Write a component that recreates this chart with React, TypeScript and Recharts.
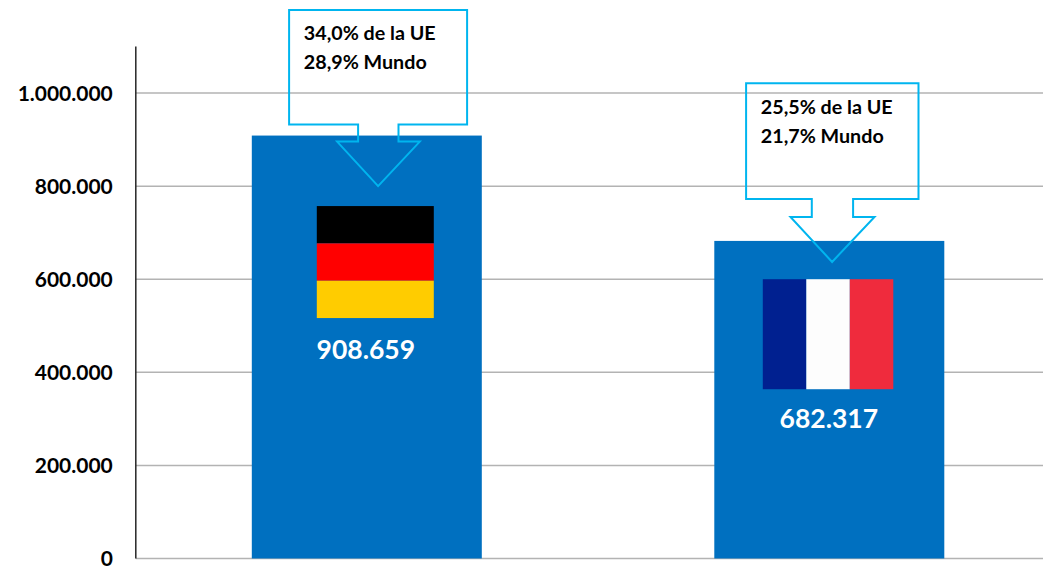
import React from 'react';
import { BarChart, Bar, XAxis, YAxis, CartesianGrid } from 'recharts';

const countries = ['Alemania', 'Francia'];
const values = [908659, 682317];
const ueShares = ['34,0% de la UE', '25,5% de la UE'];
const worldShares = ['28,9% Mundo', '21,7% Mundo'];
const flagStripes = [
  ['#000000', '#ff0000', '#ffcc00'],
  ['#002090', '#fdfdfd', '#ef2b3d'],
];
const yTicks = [0, 200000, 400000, 600000, 800000, 1000000];

const fmt = (n: number) => n.toString().replace(/\B(?=(\d{3})+(?!\d))/g, '.');

const FONT = 'Lato, sans-serif';
const chartData = countries.map((name, i) => ({ name, value: values[i], idx: i }));

// callout and flag placement relative to the top-left corner of each bar
const layouts = [
  {
    box: [37.3, -125.5, 215.3, -11], neck: [106.3, 146.7, 6], head: [85.3, 168], tip: [126.3, 50.5],
    text: [52, -96, -67],
    flag: { x: 65, y: 70.5, w: 117, h: 112, horizontal: true },
    labelX: 114,
    labelY: 223,
  },
  {
    box: [31.8, -157.7, 204.2, -42], neck: [97.5, 138.8, -24], head: [76.2, 160.2], tip: [117.8, 21],
    text: [46.5, -127, -98],
    flag: { x: 48.5, y: 38.3, w: 130.5, h: 110, horizontal: false },
    labelX: 114.5,
    labelY: 187,
  },
];

const BarWithCallout = (props: any) => {
  const { x, y, width, height, payload } = props;
  const i = payload.idx;
  const l = layouts[i];
  const [bl, bt, br, bb] = l.box;
  const [nl, nr, nb] = l.neck;
  const path = [
    `M${x + bl},${y + bt}`, `L${x + br},${y + bt}`, `L${x + br},${y + bb}`,
    `L${x + nr},${y + bb}`, `L${x + nr},${y + nb}`, `L${x + l.head[1]},${y + nb}`,
    `L${x + l.tip[0]},${y + l.tip[1]}`, `L${x + l.head[0]},${y + nb}`,
    `L${x + nl},${y + nb}`, `L${x + nl},${y + bb}`, `L${x + bl},${y + bb}`, 'Z',
  ].join(' ');
  const f = l.flag;
  const stripes = flagStripes[i];
  return (
    <g>
      <rect x={x} y={y} width={width} height={height} fill="#0070c0" />
      {stripes.map((c, s) =>
        f.horizontal ? (
          <rect key={s} x={x + f.x} y={y + f.y + (f.h / 3) * s} width={f.w} height={f.h / 3} fill={c} />
        ) : (
          <rect key={s} x={x + f.x + (f.w / 3) * s} y={y + f.y} width={f.w / 3} height={f.h} fill={c} />
        )
      )}
      <text x={x + l.labelX} y={y + l.labelY} textAnchor="middle" fill="#fff"
        fontFamily={FONT} fontWeight={700} fontSize={26.5}>
        {fmt(values[i])}
      </text>
      <path d={path} fill="none" stroke="#00b5ef" strokeWidth={2} />
      <text x={x + l.text[0]} y={y + l.text[1]} fontFamily={FONT} fontWeight={700} fontSize={19.7} fill="#000">
        {ueShares[i]}
      </text>
      <text x={x + l.text[0]} y={y + l.text[2]} fontFamily={FONT} fontWeight={700} fontSize={19.7} fill="#000">
        {worldShares[i]}
      </text>
    </g>
  );
};

export default function App() {
  return (
    <div style={{ position: 'fixed', left: 0, top: 0, width: 1043, height: 566, overflow: 'hidden', background: '#fff' }}>
      <BarChart
        width={1060.8}
        height={566}
        data={chartData}
        margin={{ top: 46.5, right: 0, bottom: 7.5, left: 0 }}
        barSize={230}
      >
        <CartesianGrid vertical={false} horizontalValues={yTicks} stroke="#b3b3b3" strokeWidth={1.5} />
        <XAxis dataKey="name" height={0} tick={false} tickLine={false} axisLine={{ stroke: '#b3b3b3', strokeWidth: 1.5 }} />
        <YAxis
          width={135.8}
          domain={[0, 1100000]}
          ticks={yTicks}
          tickFormatter={fmt}
          tickLine={false}
          axisLine={{ stroke: '#262626', strokeWidth: 1.5 }}
          tick={{ fill: '#000', fontFamily: FONT, fontWeight: 700, fontSize: 21 }}
          tickMargin={17}
          interval={0}
        />
        <Bar dataKey="value" isAnimationActive={false} shape={BarWithCallout} />
      </BarChart>
    </div>
  );
}
